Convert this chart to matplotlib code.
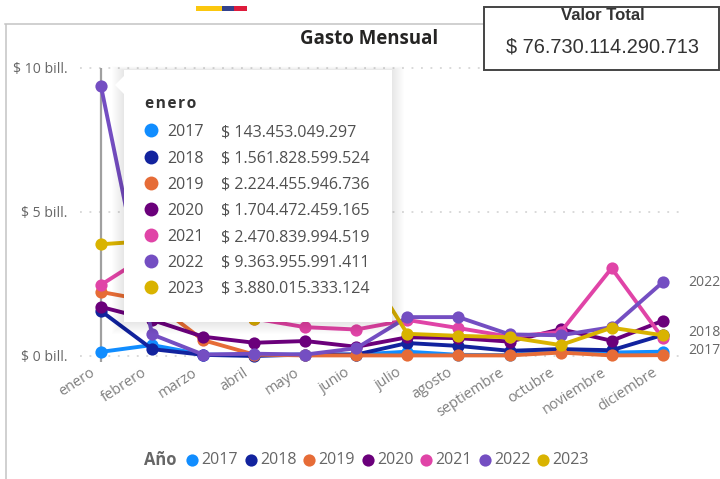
import matplotlib
matplotlib.use("Agg")
import matplotlib.pyplot as plt
from matplotlib.patches import Rectangle, Polygon
from matplotlib.transforms import ScaledTranslation

months = ["enero","febrero","marzo","abril","mayo","junio","julio","agosto","septiembre","octubre","noviembre","diciembre"]
years = ["2017","2018","2019","2020","2021","2022","2023"]
colors = ["#118DFF","#12239E","#E66C37","#6B007B","#E044A7","#744EC2","#D9B300"]
v2017 = [0.143,0.38,0.05,0.04,0.05,0.05,0.15,0.04,0.03,0.20,0.12,0.15]
v2018 = [1.562,0.24,0.04,0.00,0.05,0.05,0.45,0.35,0.18,0.24,0.20,0.73]
v2019 = [2.224,1.90,0.55,0.05,0.02,0.02,0.02,0.02,0.02,0.12,0.02,0.03]
v2020 = [1.704,1.25,0.67,0.46,0.52,0.32,0.65,0.62,0.50,0.93,0.53,1.22]
v2021 = [2.471,3.60,2.40,1.30,1.00,0.92,1.25,0.97,0.67,0.83,3.05,0.62]
v2022 = [9.364,0.75,0.05,0.08,0.05,0.27,1.35,1.35,0.75,0.72,1.00,2.56]
v2023 = [3.880,4.00,2.60,1.30,1.60,3.60,0.77,0.70,0.65,0.38,0.98,0.72]
series = [v2017,v2018,v2019,v2020,v2021,v2022,v2023]
tooltip_values = ["$ 143.453.049.297","$ 1.561.828.599.524","$ 2.224.455.946.736","$ 1.704.472.459.165",
                  "$ 2.470.839.994.519","$ 9.363.955.991.411","$ 3.880.015.333.124"]
ytick_vals = [0,5,10]
ytick_labels = ["$ 0 bill.","$ 5 bill.","$ 10 bill."]
end_labels = ["2022","2018","2017"]
end_values = [2.56,0.83,0.2]

W,H = 720,479
PT = 0.72
UI = ["Open Sans","DejaVu Sans"]
fig = plt.figure(figsize=(W/100,H/100),dpi=100,facecolor="white")

# Main chart: Jan..Dec spans 101..662.7 px, 0..10 spans y 356..68 px
ax = fig.add_axes([101/W,(H-356)/H,561.7/W,288/H],facecolor="none")
ax.set_xlim(0,11); ax.set_ylim(0,10)
for s in ax.spines.values(): s.set_visible(False)
ax.set_xticks(range(12))
ax.set_xticklabels(months,rotation=33,ha="right",va="top",rotation_mode="anchor",
                   color="#7f7f7f",fontsize=14.5*PT,family=UI)
ax.set_yticks(ytick_vals)
ax.set_yticklabels(ytick_labels,color="#666666",fontsize=14*PT,family=UI)
ax.tick_params(axis="x",length=0,pad=10)
ax.tick_params(axis="y",length=0,pad=24)
shift = ScaledTranslation(-0.11,0.05,fig.dpi_scale_trans)
for t in ax.get_xticklabels():
    t.set_transform(t.get_transform()+shift)
ax.hlines(ytick_vals,-0.41,11.35,colors="#cfcfcf",linewidth=1.1,linestyles=(0,(1.2,5)),clip_on=False,zorder=1)
ax.vlines(0,-0.2,10,colors="#a0a0a0",linewidth=1.6,clip_on=False,zorder=2)
for i,(vals,c) in enumerate(zip(series,colors)):
    ax.plot(range(12),vals,color=c,lw=2.8,marker="o",ms=8.8,mew=0,clip_on=False,zorder=3+i)
for lab,val in zip(end_labels,end_values):
    ax.annotate(lab,(11,val),xytext=(26,0),textcoords="offset pixels",va="center",ha="left",
                color="#666666",fontsize=14*PT,family=UI,annotation_clip=False)

# Overlay in pixel coordinates for the report furniture
ov = fig.add_axes([0,0,1,1],facecolor="none")
ov.set_xlim(0,W); ov.set_ylim(H,0); ov.axis("off")
ov.plot([5.5,5.5],[H,23.5],color="#c4c4c4",lw=1.1,solid_capstyle="butt")
ov.plot([5,484],[23.5,23.5],color="#c4c4c4",lw=1.1)
ov.add_patch(Rectangle((196,6),26,4.5,fc="#FBC70E",ec="none"))
ov.add_patch(Rectangle((222,6),12,4.5,fc="#34438C",ec="none"))
ov.add_patch(Rectangle((234,6),13,4.5,fc="#DE1B3C",ec="none"))
ov.text(369,39,"Gasto Mensual",ha="center",va="center",fontsize=18.7*PT,fontweight="bold",color="#252423",family=UI)
ov.add_patch(Rectangle((484,6.5),235,63.5,fc="white",ec="#444444",lw=1.4,zorder=5))
ov.text(603,15.5,"Valor Total",ha="center",va="center",fontsize=16.7*PT,fontweight="bold",color="#333333",family=["Liberation Sans"],zorder=6)
ov.text(603,47,"$ 76.730.114.290.713",ha="center",va="center",fontsize=20*PT,color="#333333",family=["Liberation Sans"],zorder=6)

# Tooltip
x0,y0,x1,y1 = 124,70,392,322
for g in range(1,13):
    ov.add_patch(Rectangle((x0-g,y0-g*0.3),x1-x0+2*g,y1-y0+1.3*g,fc="black",alpha=0.007,ec="none",zorder=7))
ov.add_patch(Rectangle((x0,y0),x1-x0,y1-y0,fc="white",ec="none",zorder=8))
ov.add_patch(Polygon([(115,85),(124,76),(124,94)],fc="white",ec="none",zorder=8))
ov.text(145,104,"e n e r o".replace(" ","\u200a"),va="center",ha="left",fontsize=15.5*PT,fontweight="bold",color="#333333",family=UI,zorder=9)
row_y = [130,157,183,209,235,261,287]
for ry,yr,val,c in zip(row_y,years,tooltip_values,colors):
    ov.plot(151,ry-0.5,"o",ms=10,mew=0,color=c,zorder=9)
    ov.text(167,ry+2,yr,va="center",ha="left",fontsize=16*PT,color="#505050",family=UI,zorder=9)
    ov.text(221,ry+2,val,va="center",ha="left",fontsize=16*PT,color="#505050",family=UI,zorder=9)

# Legend
ov.text(144,460,"Año",va="center",ha="left",fontsize=16.5*PT,fontweight="bold",color="#666666",family=UI)
leg_dot = [192,251,309,368,426,485,543]
for lx,yr,c in zip(leg_dot,years,colors):
    ov.plot(lx,460,"o",ms=8.8,mew=0,color=c)
    ov.text(lx+9,460,yr,va="center",ha="left",fontsize=16*PT,color="#666666",family=UI)

fig.savefig("out.png",dpi=100)
